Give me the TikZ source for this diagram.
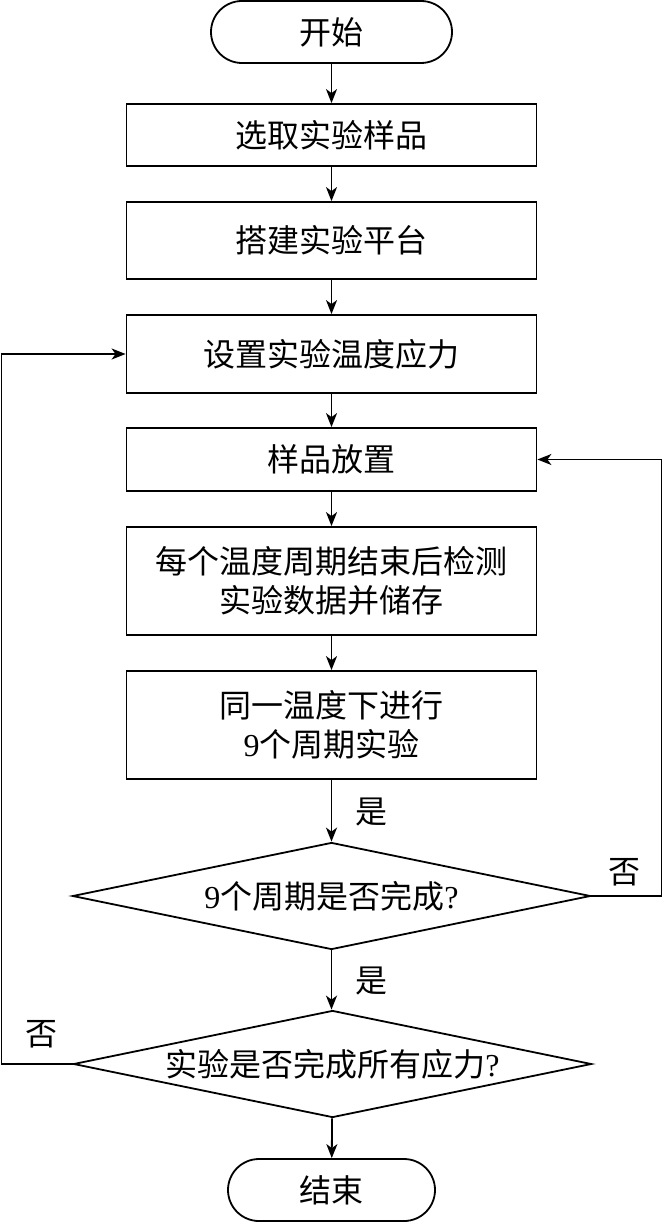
\documentclass[tikz,border=0pt]{standalone}
\usepackage{fontspec}
\setmainfont{Liberation Serif}
\newfontfamily\cjk{Noto Sans CJK SC}
\usetikzlibrary{shapes.geometric,arrows.meta}
\begin{document}
\begin{tikzpicture}[x=1pt,y=-1pt,
  txt/.style={font=\fontsize{32}{39}\selectfont\cjk},
  box/.style={draw,line width=1.8pt,minimum width=410pt,inner sep=0pt,align=center,txt},
  term/.style={draw,line width=1.8pt,rounded corners=31pt,minimum height=62pt,inner sep=0pt,txt},
  dec/.style={draw,diamond,aspect=4.8,line width=1.8pt,inner sep=0pt,minimum width=518pt,minimum height=107pt,txt},
  arr/.style={line width=1.8pt,-{Stealth[length=14pt,width=11pt,inset=4pt]}},
  lab/.style={txt}]
\useasboundingbox (0,0) rectangle (663,1222);
\node[term,minimum width=241pt] (start) at (331.5,32) {开始};
\node[box,minimum height=62pt] (b1) at (331.5,135) {选取实验样品};
\node[box,minimum height=77pt] (b2) at (331.5,240.5) {搭建实验平台};
\node[box,minimum height=78pt] (b3) at (331.5,354) {设置实验温度应力};
\node[box,minimum height=63pt] (b4) at (331.5,459.5) {样品放置};
\node[box,minimum height=108pt] (b5) at (331.5,581) {每个温度周期结束后检测\\实验数据并储存};
\node[box,minimum height=108pt] (b6) at (331.5,725) {同一温度下进行\\\textrm{9}个周期实验};
\node[dec] (d1) at (331.5,896) {\textrm{9}个周期是否完成\textrm{?}};
\node[dec] (d2) at (332.5,1064) {实验是否完成所有应力\textrm{?}};
\node[term,minimum width=207pt] (end) at (331.5,1190) {结束};
\coordinate (r1) at (661.5,896);
\coordinate (r2) at (661.5,459.5);
\coordinate (l1) at (1.5,1064);
\coordinate (l2) at (1.5,354);
\draw[arr] (start) -- (b1);
\draw[arr] (b1) -- (b2);
\draw[arr] (b2) -- (b3);
\draw[arr] (b3) -- (b4);
\draw[arr] (b4) -- (b5);
\draw[arr] (b5) -- (b6);
\draw[arr] (b6) -- (d1);
\draw[arr] (d1.south) -- (d2.north -| d1.south);
\draw[arr] (d2) -- (end);
\draw[arr] (d1.east) -- (r1) -- (r2) -- (b4.east);
\draw[arr] (d2.west) -- (l1) -- (l2) -- (b3.west);
\node[lab] (y1) at (371,812) {是};
\node[lab] (y2) at (371,981) {是};
\node[lab] (n1) at (624,872) {否};
\node[lab] (n2) at (41,1034) {否};
\end{tikzpicture}
\end{document}
